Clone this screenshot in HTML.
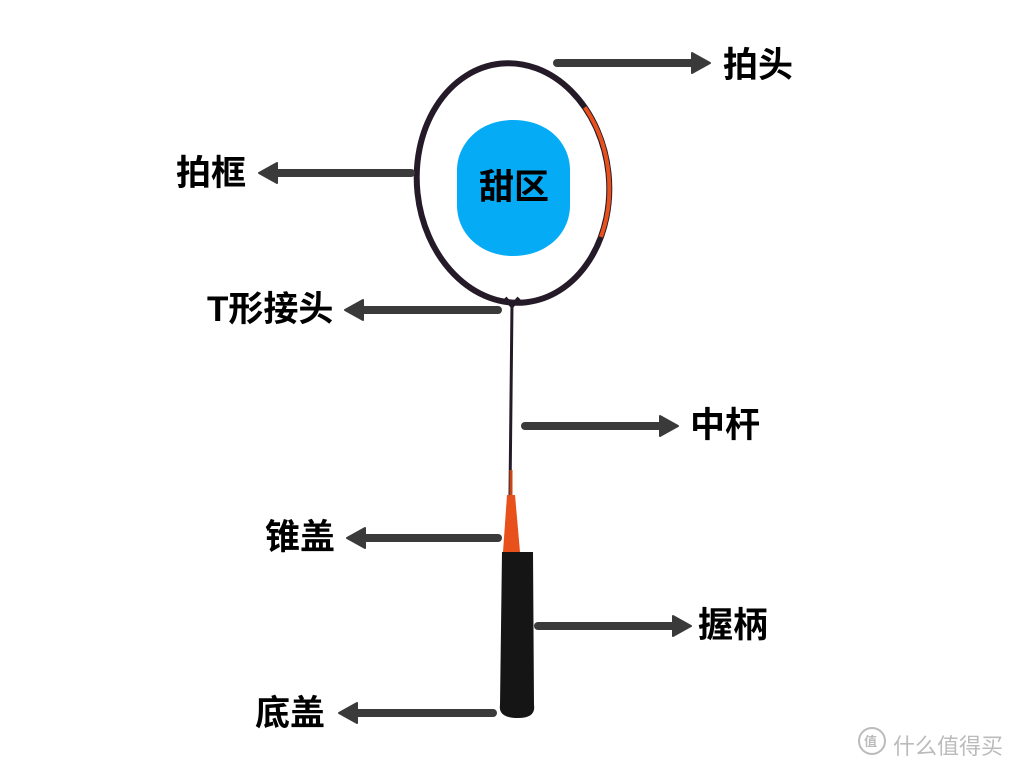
<!DOCTYPE html>
<html><head><meta charset="utf-8"><style>
body{margin:0;width:1024px;height:768px;background:#fff;overflow:hidden;position:relative;font-family:"Liberation Sans","Noto Sans CJK SC",sans-serif}
.t{position:absolute;font-weight:bold;font-size:35px;color:#000;line-height:1;white-space:nowrap}
</style></head><body>
<svg width="1024" height="768" style="position:absolute;left:0;top:0">
<ellipse cx="513" cy="183" rx="96" ry="120" transform="rotate(-6 513 183)" fill="none" stroke="#241a28" stroke-width="6"/>
<ellipse cx="513" cy="183" rx="96" ry="120" transform="rotate(-6 513 183)" fill="none" stroke="#e8501c" stroke-width="4" stroke-dasharray="65 545 71"/>
<path d="M513 120 C550 120 570 145 570 170 L570 205 C570 235 545 256 513 256 C482 256 457 235 457 205 L457 170 C457 145 478 120 513 120Z" fill="#06abf6"/>
<path d="M505 298 L512 306 L519 298" fill="none" stroke="#241a28" stroke-width="4"/>
<line x1="512" y1="303" x2="510" y2="495" stroke="#241a28" stroke-width="3"/>
<line x1="511" y1="470" x2="511" y2="500" stroke="#c94516" stroke-width="3"/>
<path d="M507 495 L515 495 L520 552 L503 552Z" fill="#e8501c"/>
<path d="M502 552 L533 552 L534 705 Q536 718 518 718 Q498 718 500 705Z" fill="#151515"/>
<g stroke="#3a3a3a" stroke-width="8" stroke-linecap="round" fill="#3a3a3a">
<line x1="557" y1="63" x2="695" y2="63"/><path d="M692 53 L710 63 L692 73Z" stroke-width="2" stroke-linejoin="round"/>
<line x1="411" y1="173" x2="274" y2="173"/><path d="M277 163 L259 173 L277 183Z" stroke-width="2" stroke-linejoin="round"/>
<line x1="498" y1="310" x2="360" y2="310"/><path d="M363 300 L345 310 L363 320Z" stroke-width="2" stroke-linejoin="round"/>
<line x1="525" y1="426" x2="663" y2="426"/><path d="M660 416 L678 426 L660 436Z" stroke-width="2" stroke-linejoin="round"/>
<line x1="498" y1="538" x2="362" y2="538"/><path d="M365 528 L347 538 L365 548Z" stroke-width="2" stroke-linejoin="round"/>
<line x1="538" y1="626" x2="676" y2="626"/><path d="M673 616 L691 626 L673 636Z" stroke-width="2" stroke-linejoin="round"/>
<line x1="493" y1="713" x2="354" y2="713"/><path d="M357 703 L339 713 L357 723Z" stroke-width="2" stroke-linejoin="round"/>
</g>
<circle cx="872" cy="741" r="13" fill="none" stroke="#bbb" stroke-width="2"/>
</svg>
<div class="t" style="left:723px;top:48px">拍头</div>
<div class="t" style="left:176px;top:156px">拍框</div>
<div class="t" style="left:479px;top:170px">甜区</div>
<div class="t" style="left:207px;top:292px">T形接头</div>
<div class="t" style="left:690px;top:408px">中杆</div>
<div class="t" style="left:265px;top:520px">锥盖</div>
<div class="t" style="left:698px;top:608px">握柄</div>
<div class="t" style="left:255px;top:696px">底盖</div>
<div style="position:absolute;left:864px;top:731px;font-size:13px;color:#bbb;font-weight:bold">值</div>
<div style="position:absolute;left:893px;top:729px;font-size:22px;color:#bbb;font-family:'Noto Sans CJK SC',sans-serif">什么值得买</div>
</body></html>
